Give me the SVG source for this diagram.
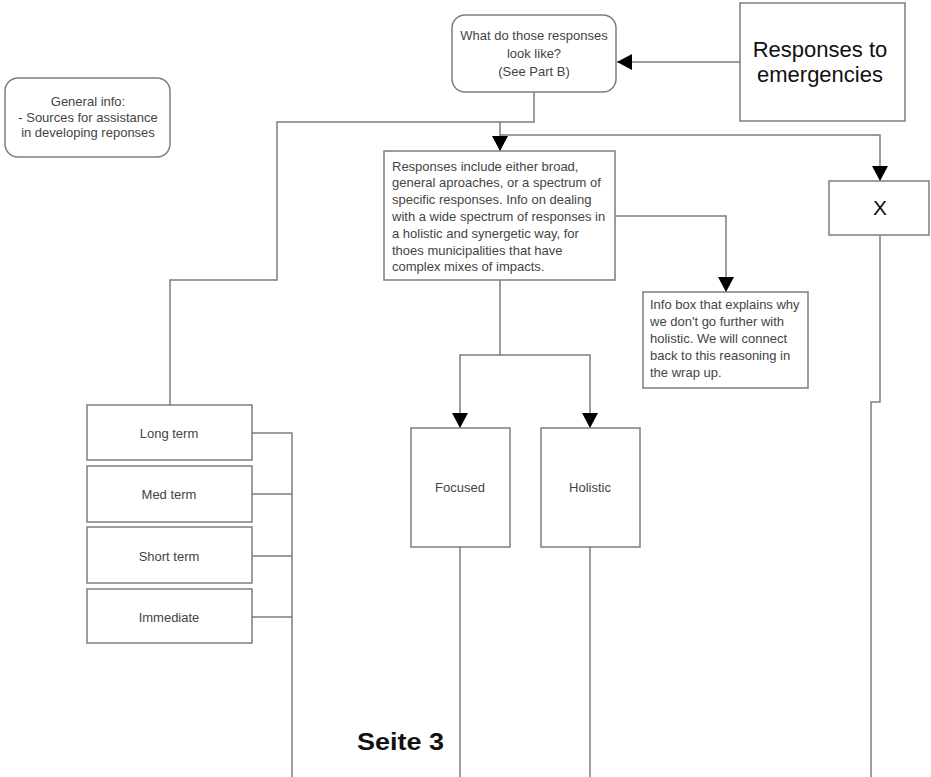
<svg xmlns="http://www.w3.org/2000/svg" width="931" height="777" viewBox="0 0 931 777">
  <defs>
    <marker id="arrow" viewBox="0 0 15 16" refX="15" refY="8" markerWidth="15" markerHeight="16" markerUnits="userSpaceOnUse" orient="auto">
      <path d="M0,0 L15,8 L0,16 z" fill="#000"/>
    </marker>
    <style>
      .box { fill: #fff; stroke: #7d7d7d; stroke-width: 1.5; }
      .wire { fill: none; stroke: #7d7d7d; stroke-width: 1.5; }
      .arr { marker-end: url(#arrow); }
      .t { font-family: "Liberation Sans", Arial, sans-serif; font-size: 13px; fill: #444; }
      .c { text-anchor: middle; }
      .big { font-family: "Liberation Sans", Arial, sans-serif; font-size: 22px; fill: #111; text-anchor: middle; }
    </style>
  </defs>

  <rect width="931" height="777" fill="#fff"/>

  <!-- connectors -->
  <g id="connectors">
    <path class="wire arr" d="M740,62 H617"/>
    <path class="wire" d="M534,92 V122 H277 V280 H170 V405"/>
    <path class="wire arr" d="M500,122 V151"/>
    <path class="wire arr" d="M500,135 H880 V181"/>
    <path class="wire arr" d="M615,216 H726 V292"/>
    <path class="wire arr" d="M500,280 V355 H460 V428"/>
    <path class="wire arr" d="M500,355 H590 V428"/>
    <path class="wire" d="M880,235 V402 H871 V777"/>
    <path class="wire" d="M460,547 V777"/>
    <path class="wire" d="M590,547 V777"/>
    <path class="wire" d="M252,433 H292 V777"/>
    <path class="wire" d="M252,494 H292"/>
    <path class="wire" d="M252,556 H292"/>
    <path class="wire" d="M252,617 H292"/>
  </g>

  <g id="responses-to-emergencies">
    <rect class="box" x="740" y="3" width="165" height="118"/>
    <text class="big" x="820" y="57">Responses to</text>
    <text class="big" x="820" y="82">emergencies</text>
  </g>

  <g id="what-responses">
    <rect class="box" x="452" y="15" width="164" height="77" rx="13"/>
    <text class="t c" x="534" y="40">What do those responses</text>
    <text class="t c" x="534" y="58">look like?</text>
    <text class="t c" x="534" y="76">(See Part B)</text>
  </g>

  <g id="general-info">
    <rect class="box" x="5" y="78" width="165" height="79" rx="13"/>
    <text class="t c" x="88" y="106">General info:</text>
    <text class="t c" x="88" y="122">- Sources for assistance</text>
    <text class="t c" x="88" y="137">in developing reponses</text>
  </g>

  <g id="responses-include">
    <rect class="box" x="384" y="151" width="231" height="129"/>
    <text class="t" x="392" y="170.5">Responses include either broad,</text>
    <text class="t" x="392" y="187">general aproaches, or a spectrum of</text>
    <text class="t" x="392" y="204">specific responses. Info on dealing</text>
    <text class="t" x="392" y="221">with a wide spectrum of responses in</text>
    <text class="t" x="392" y="237.5">a holistic and synergetic way, for</text>
    <text class="t" x="392" y="254.5">thoes municipalities that have</text>
    <text class="t" x="392" y="271">complex mixes of impacts.</text>
  </g>

  <g id="info-box">
    <rect class="box" x="643" y="292" width="165" height="96"/>
    <text class="t" x="650" y="309">Info box that explains why</text>
    <text class="t" x="650" y="326">we don't go further with</text>
    <text class="t" x="650" y="343">holistic. We will connect</text>
    <text class="t" x="650" y="360">back to this reasoning in</text>
    <text class="t" x="650" y="376.5">the wrap up.</text>
  </g>

  <g id="x-box">
    <rect class="box" x="829" y="181" width="100" height="54"/>
    <text class="big" x="880" y="215" style="font-size:21px">X</text>
  </g>

  <g id="long-term">
    <rect class="box" x="87" y="405" width="165" height="55"/>
    <text class="t c" x="169" y="437.5">Long term</text>
  </g>
  <g id="med-term">
    <rect class="box" x="87" y="466" width="165" height="56"/>
    <text class="t c" x="169" y="498.5">Med term</text>
  </g>
  <g id="short-term">
    <rect class="box" x="87" y="527" width="165" height="56"/>
    <text class="t c" x="169" y="560.5">Short term</text>
  </g>
  <g id="immediate">
    <rect class="box" x="87" y="589" width="165" height="54"/>
    <text class="t c" x="169" y="621.5">Immediate</text>
  </g>

  <g id="focused">
    <rect class="box" x="411" y="428" width="99" height="119"/>
    <text class="t c" x="460" y="491.5">Focused</text>
  </g>
  <g id="holistic">
    <rect class="box" x="541" y="428" width="99" height="119"/>
    <text class="t c" x="590" y="491.5">Holistic</text>
  </g>

  <text id="page-label" x="357" y="750" font-family="'Liberation Sans', Arial, sans-serif" font-size="24" font-weight="bold" fill="#111" textLength="87" lengthAdjust="spacingAndGlyphs">Seite 3</text>
</svg>
